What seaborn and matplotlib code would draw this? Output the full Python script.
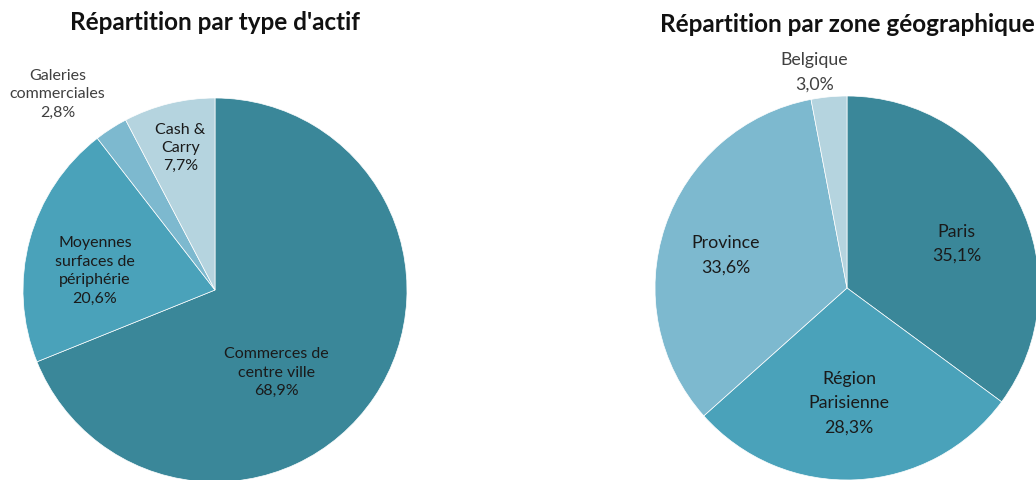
import matplotlib
matplotlib.use("Agg")

import matplotlib.pyplot as plt
import seaborn as sns

sns.set_theme(style="white")
plt.rcParams["font.family"] = ["Lato", "DejaVu Sans"]

# Left pie: asset types
asset_labels = ["Commerces de\ncentre ville", "Moyennes\nsurfaces de\npériphérie",
                "Galeries\ncommerciales", "Cash &\nCarry"]
asset_values = [68.9, 20.6, 2.8, 7.7]
asset_colors = ["#3A8799", "#4AA2BA", "#7DB9CF", "#B5D4DF"]
# label anchors in pie-radius units (relative to center)
asset_label_pos = [(0.32, -0.43), (-0.625, 0.10), (-0.82, 1.02), (-0.18, 0.74)]
asset_label_color = ["#1a1a1a", "#1a1a1a", "#404040", "#1a1a1a"]

# Right pie: geographic zones
zone_labels = ["Paris", "Région\nParisienne", "Province", "Belgique"]
zone_values = [35.1, 28.3, 33.6, 3.0]
zone_colors = ["#3A8799", "#4AA2BA", "#7DB9CF", "#B5D4DF"]
zone_label_pos = [(0.57, 0.23), (0.01, -0.60), (-0.63, 0.17), (-0.17, 1.125)]
zone_label_color = ["#1a1a1a", "#1a1a1a", "#1a1a1a", "#404040"]

W, H, R = 1036, 480, 192

fig = plt.figure(figsize=(W / 100, H / 100), dpi=100)


def draw_pie(cx, cy, values, labels, colors, positions, label_colors, title,
             title_y, fontsize, linespacing):
    # cx, cy in pixels from top-left
    ax = fig.add_axes([(cx - R) / W, (H - cy - R) / H, 2 * R / W, 2 * R / H])
    ax.pie(values, colors=colors, startangle=90, counterclock=False, radius=1,
           wedgeprops={"edgecolor": "white", "linewidth": 0.5})
    ax.set_xlim(-1, 1)
    ax.set_ylim(-1, 1)
    ax.set_aspect("equal")
    ax.axis("off")
    for lab, val, (x, y), col in zip(labels, values, positions, label_colors):
        ax.text(x, y, f"{lab}\n{val:.1f}%".replace(".", ","), ha="center", va="center",
                fontsize=fontsize, color=col, linespacing=linespacing, clip_on=False)
    fig.text(cx / W, 1 - title_y / H, title, ha="center", va="center",
             fontsize=17.5, fontweight="bold", color="#111111")


draw_pie(215, 290, asset_values, asset_labels, asset_colors, asset_label_pos,
         asset_label_color, "Répartition par type d'actif", 23, 11.5, 1.4)
draw_pie(847, 288, zone_values, zone_labels, zone_colors, zone_label_pos,
         zone_label_color, "Répartition par zone géographique", 25, 12.8, 1.65)

fig.savefig("out.png", dpi=100)
